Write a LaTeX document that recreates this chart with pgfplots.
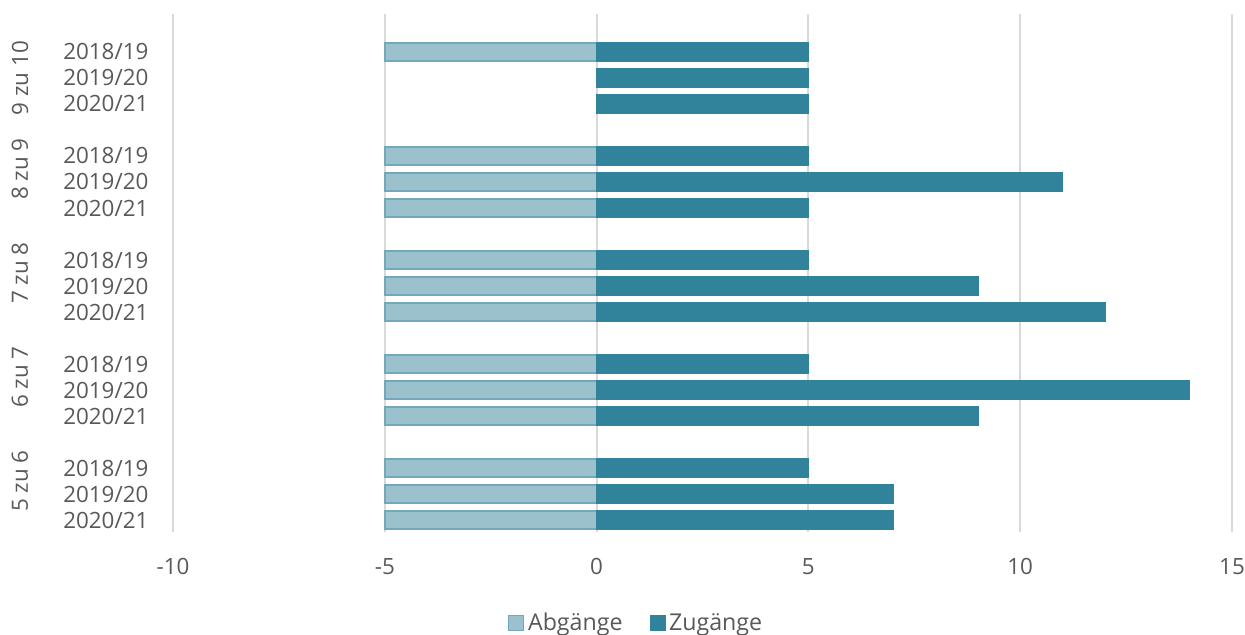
\documentclass[border=0pt]{standalone}
\usepackage{pgfplots}
\pgfplotsset{compat=1.18}
\usepackage{fontspec}
\setmainfont{Open Sans}
\definecolor{zug}{HTML}{31829B}
\definecolor{abgF}{HTML}{9BC1CD}
\definecolor{abgD}{HTML}{72A8B9}
\definecolor{txt}{HTML}{595959}
\definecolor{grd}{HTML}{D9D9D9}
\newcommand{\lblfont}{\fontsize{11.2bp}{13bp}\selectfont}
\pgfplotsset{mylegend/.style={legend image code/.code={\draw[##1] (0bp,-3.6bp) rectangle (7.5bp,3.9bp);}}}
\begin{document}
\begin{tikzpicture}
\begin{axis}[
  scale only axis, width=529.5bp, height=259bp,
  xmin=-10, xmax=15, ymin=-0.46, ymax=19.46,
  xtick={-10,-5,0,5,10,15}, xticklabels={-10,-5,0,5,10,15},
  ytick={0,1,2,4,5,6,8,9,10,12,13,14,16,17,18},
  yticklabels={2020/21,2019/20,2018/19,2020/21,2019/20,2018/19,2020/21,2019/20,2018/19,2020/21,2019/20,2018/19,2020/21,2019/20,2018/19},
  axis line style={draw=none},
  major tick length=0pt,
  xmajorgrids, grid style={grd, line width=1bp},
  tick label style={font=\lblfont, text=txt},
  xticklabel style={yshift=-9.8bp},
  yticklabel style={xshift=-8.8bp},
  xbar, bar width=9.25bp, bar shift=0pt,
  clip=false,
  legend style={at={(axis description cs:0.438,-0.176)}, anchor=center, draw=none, legend columns=2, font=\fontsize{11.6bp}{13bp}\selectfont, text=txt,
    /tikz/every even column/.append style={column sep=11.5bp}},
]
\addplot[fill=abgF, draw=abgD, line width=0.8bp, mylegend] coordinates {
 (-5,0) (-5,1) (-5,2) (-5,4) (-5,5) (-5,6) (-5,8) (-5,9) (-5,10) (-5,12) (-5,13) (-5,14) (-5,18)};
\addplot[fill=zug, draw=zug, line width=0.3bp, mylegend] coordinates {
 (7,0) (7,1) (5,2) (9,4) (14,5) (5,6) (12,8) (9,9) (5,10) (5,12) (11,13) (5,14) (5,16) (5,17) (5,18)};
\legend{Abgänge, Zugänge}
\coordinate (sw) at (rel axis cs:0,0);
\coordinate (ne) at (rel axis cs:1,1);
\node[rotate=90, text=txt, font=\lblfont] at ([xshift=-76.5bp]axis cs:-10,1.5) {5 zu 6};
\node[rotate=90, text=txt, font=\lblfont] at ([xshift=-76.5bp]axis cs:-10,5.5) {6 zu 7};
\node[rotate=90, text=txt, font=\lblfont] at ([xshift=-76.5bp]axis cs:-10,9.5) {7 zu 8};
\node[rotate=90, text=txt, font=\lblfont] at ([xshift=-76.5bp]axis cs:-10,13.5) {8 zu 9};
\node[rotate=90, text=txt, font=\lblfont] at ([xshift=-76.5bp]axis cs:-10,17) {9 zu 10};
\end{axis}
\pgfresetboundingbox
\path[use as bounding box] ([shift={(-86.5bp,-51.5bp)}]sw) rectangle ([shift={(6.5bp,7bp)}]ne);
\end{tikzpicture}
\end{document}
